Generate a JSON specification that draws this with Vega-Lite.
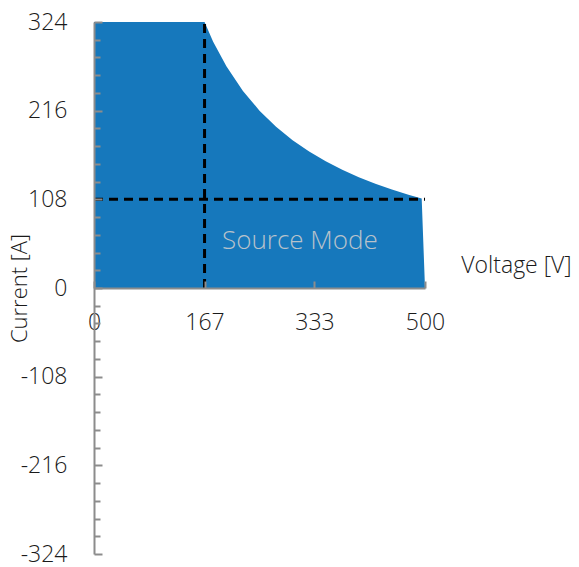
{
  "$schema": "https://vega.github.io/schema/vega-lite/v6.json",
  "width": 331,
  "height": 532,
  "autosize": "none",
  "padding": {"left": 94, "top": 22, "right": 154, "bottom": 13},
  "config": {"view": {"stroke": null}, "font": "Open Sans"},
  "layer": [
    {
      "data": {"values": [
        {"v": 0, "i": 324}, {"v": 167, "i": 324}, {"v": 180, "i": 300}, {"v": 200, "i": 270},
        {"v": 225, "i": 240}, {"v": 250, "i": 216}, {"v": 275, "i": 196.4}, {"v": 300, "i": 180},
        {"v": 325, "i": 166.2}, {"v": 350, "i": 154.3}, {"v": 375, "i": 144}, {"v": 400, "i": 135},
        {"v": 425, "i": 127.1}, {"v": 450, "i": 120}, {"v": 475, "i": 113.7}, {"v": 495, "i": 109},
        {"v": 500, "i": 0}
      ]},
      "mark": {"type": "area", "color": "#1678BC", "opacity": 1},
      "encoding": {
        "x": {"field": "v", "type": "quantitative", "scale": {"domain": [0, 500], "nice": false},
          "axis": {"values": [0, 167, 333, 500], "offset": -266, "zindex": 1, "grid": false, "labelFlush": false, "labelOverlap": false,
            "domainColor": "#8c8c8c", "domainWidth": 2, "tickColor": "#8c8c8c", "tickWidth": 2, "tickSize": -7,
            "labelFont": "Open Sans", "labelFontSize": 23, "labelFontWeight": 300, "labelColor": "#1a1a1a", "labelPadding": 30,
            "title": "Voltage [V]", "titleFont": "Open Sans", "titleFontSize": 23, "titleFontWeight": 300, "titleColor": "#1a1a1a",
            "titleAnchor": null, "titleAlign": "center", "titleBaseline": "middle", "titleX": 422, "titleY": -23, "titleAngle": 0}},
        "y": {"field": "i", "type": "quantitative", "scale": {"domain": [-324, 324], "nice": false},
          "axis": {"orient": "left", "values": [-324, -216, -108, 0, 108, 216, 324], "zindex": 1, "grid": false,
            "labelExpr": "'' + datum.value", "labelFlush": false, "labelOverlap": false,
            "domainColor": "#8c8c8c", "domainWidth": 2, "tickColor": "#8c8c8c", "tickWidth": 2, "tickSize": -8,
            "labelFont": "Open Sans", "labelFontSize": 23, "labelFontWeight": 300, "labelColor": "#1a1a1a", "labelPadding": 35,
            "title": "Current [A]", "titleFont": "Open Sans", "titleFontSize": 22, "titleFontWeight": 300, "titleColor": "#1a1a1a",
            "titleAnchor": null, "titleAlign": "center", "titleBaseline": "middle", "titleX": -75, "titleY": 266, "titleAngle": -90}}
      }
    },
    {
      "data": {"values": [
        {"x": 0, "x2": 500, "y": 108, "y2": 108},
        {"x": 167, "x2": 167, "y": 0, "y2": 324}
      ]},
      "mark": {"type": "rule", "color": "#000000", "strokeWidth": 3, "strokeDash": [9, 6]},
      "encoding": {
        "x": {"field": "x", "type": "quantitative", "axis": null},
        "x2": {"field": "x2"},
        "y": {"field": "y", "type": "quantitative",
          "axis": {"orient": "left", "zindex": 1, "grid": false, "domain": false, "labels": false, "title": null,
            "values": [-302.4, -280.8, -259.2, -237.6, -194.4, -172.8, -151.2, -129.6, -86.4, -64.8, -43.2, -21.6, 21.6, 43.2, 64.8, 86.4, 129.6, 151.2, 172.8, 194.4, 237.6, 259.2, 280.8, 302.4],
            "tickColor": "#8c8c8c", "tickWidth": 2, "tickSize": -6}},
        "y2": {"field": "y2"}
      }
    },
    {
      "data": {"values": [{"x": 311, "y": 57, "label": "Source Mode"}]},
      "mark": {"type": "text", "font": "Open Sans", "fontSize": 26, "fontWeight": 300, "color": "#B8C2CB", "align": "center", "baseline": "middle"},
      "encoding": {
        "x": {"field": "x", "type": "quantitative", "axis": null},
        "y": {"field": "y", "type": "quantitative", "axis": null},
        "text": {"field": "label"}
      }
    }
  ],
  "resolve": {"axis": {"y": "independent", "x": "independent"}}
}
